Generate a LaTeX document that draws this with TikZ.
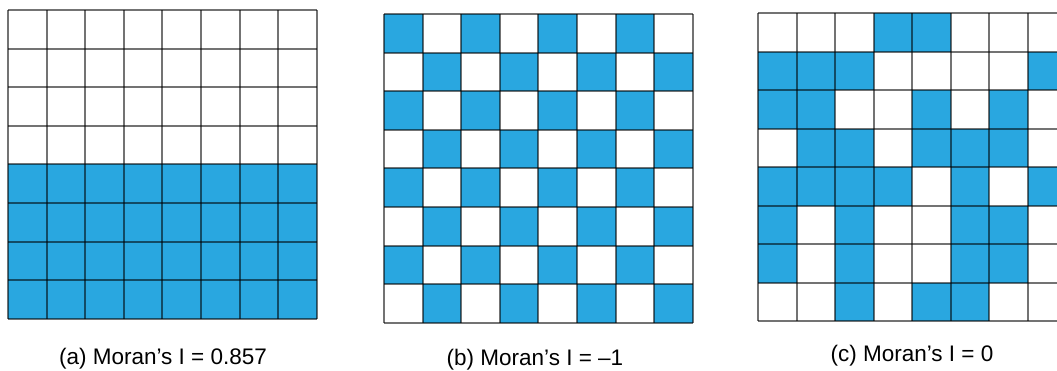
\documentclass[tikz,border=0pt]{standalone}
\usepackage{fontspec}
\setmainfont{Liberation Sans}
\definecolor{cellblue}{RGB}{41,167,224}
\begin{document}
\begin{tikzpicture}[x=1pt,y=-1pt,
  gridline/.style={draw=black,draw opacity=0.55,line width=2pt},
  bluecell/.style={fill=cellblue},
  lab/.style={anchor=base,font=\fontsize{22.5}{27}\selectfont,inner sep=0pt}]
\useasboundingbox (0,0) rectangle (1057,370);
\clip (0,0) rectangle (1057,370);
\def\cs{38.6}
% ---------- panel (a)
\begin{scope}[shift={(8,10)}]
  \foreach \r in {4,...,7} \foreach \c in {0,...,7}
    \fill[bluecell] (\c*\cs,\r*\cs) rectangle ++(\cs,\cs);
  \foreach \i in {0,...,8} {
    \draw[gridline] (\i*\cs,0) -- (\i*\cs,8*\cs);
    \draw[gridline] (0,\i*\cs) -- (8*\cs,\i*\cs);
  }
\end{scope}
% ---------- panel (b)
\begin{scope}[shift={(384,14)}]
  \foreach \r in {0,...,7} \foreach \c in {0,...,7} {
    \pgfmathtruncatemacro{\pp}{mod(\r+\c,2)}
    \ifnum\pp=0 \fill[bluecell] (\c*\cs,\r*\cs) rectangle ++(\cs,\cs); \fi
  }
  \foreach \i in {0,...,8} {
    \draw[gridline] (\i*\cs,0) -- (\i*\cs,8*\cs);
    \draw[gridline] (0,\i*\cs) -- (8*\cs,\i*\cs);
  }
\end{scope}
% ---------- panel (c)
\begin{scope}[shift={(758,13.3)}]
  \foreach \r/\c in {0/3,0/4,
      1/0,1/1,1/2,1/7,
      2/0,2/1,2/4,2/6,
      3/1,3/2,3/4,3/5,3/6,
      4/0,4/1,4/2,4/3,4/5,4/7,
      5/0,5/2,5/5,5/6,
      6/0,6/2,6/5,6/6,
      7/2,7/4,7/5}
    \fill[bluecell] (\c*38.5,\r*38.5) rectangle ++(38.5,38.5);
  \foreach \i in {0,...,8} {
    \draw[gridline] (\i*38.5,0) -- (\i*38.5,8*38.5);
    \draw[gridline] (0,\i*38.5) -- (8*38.5,\i*38.5);
  }
\end{scope}
% ---------- labels
\node[lab] (la) at (163,364) {(a) Moran’s I = 0.857};
\node[lab] (lb) at (535,365) {(b) Moran’s I = –1};
\node[lab] (lc) at (912,361) {(c) Moran’s I = 0};
\end{tikzpicture}
\end{document}
